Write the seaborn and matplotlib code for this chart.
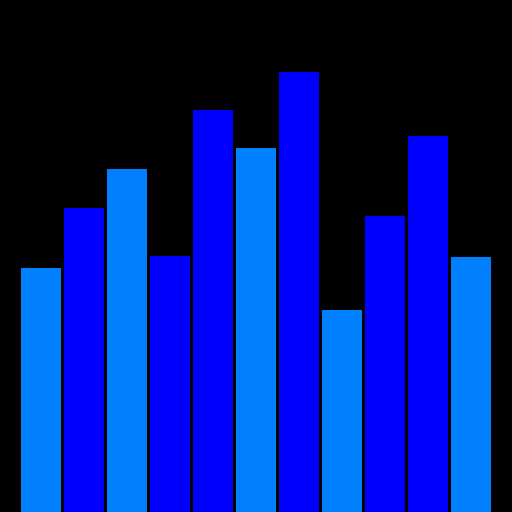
import pandas as pd
import matplotlib
matplotlib.use("Agg")
import matplotlib.pyplot as plt
import seaborn as sns

# Data
labels = ["A", "B", "C", "D", "E", "F", "G", "H", "I", "J", "K"]
values = [47.7, 59.4, 67.0, 50.0, 78.5, 71.1, 85.9, 39.5, 57.8, 73.4, 49.8]
groups = ["light", "dark", "light", "dark", "dark", "light", "dark", "light", "dark", "dark", "light"]

df = pd.DataFrame({"label": labels, "value": values, "group": groups})
palette = {"light": "#0080FF", "dark": "#0000FF"}

fig = plt.figure(figsize=(5.12, 5.12), dpi=100, facecolor="black")
ax = fig.add_axes([0, 0, 1, 1])
ax.set_facecolor("black")

sns.barplot(data=df, x="label", y="value", hue="group", palette=palette,
            dodge=False, width=0.93, saturation=1, legend=False, ax=ax, linewidth=0)

ax.set_xlim(-41 / 43, 10 + 41 / 43)
ax.set_ylim(0, 100)
ax.axis("off")

plt.savefig("out.png", dpi=100, facecolor="black")
